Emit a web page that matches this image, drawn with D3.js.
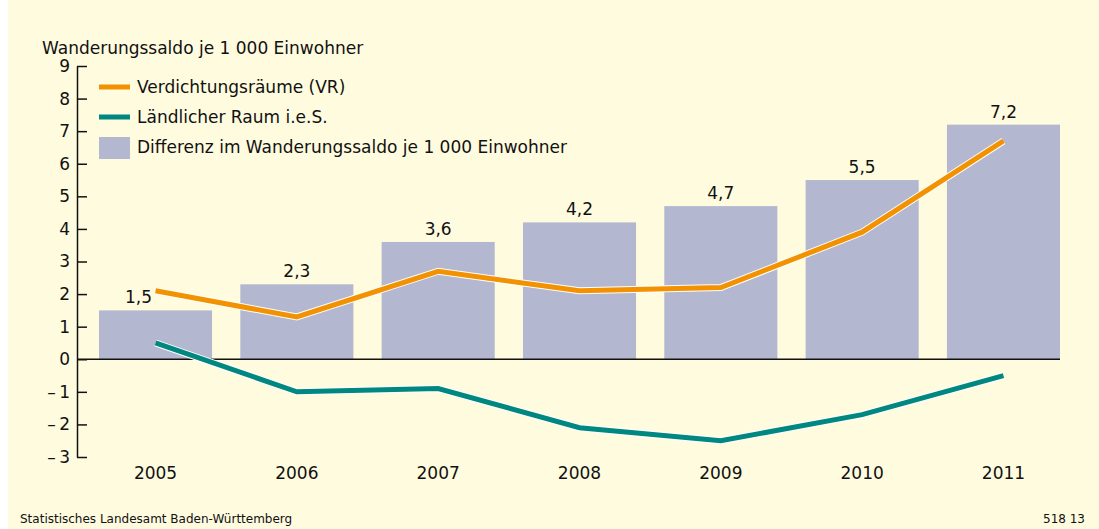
<!DOCTYPE html>
<html>
<head>
<meta charset="utf-8">
<script src="https://cdn.jsdelivr.net/npm/d3@7"></script>
<style>
    body { margin: 0; background: #fff; }
    svg { display: block; font-family: "DejaVu Sans", sans-serif; }
</style>
</head>
<body>
<div class="output"></div>
<script>
// Daten
const years = ["2005", "2006", "2007", "2008", "2009", "2010", "2011"];
const verdichtung = [2.1, 1.3, 2.7, 2.1, 2.2, 3.9, 6.7];
const laendlich = [0.5, -1.0, -0.9, -2.1, -2.5, -1.7, -0.5];
const differenz = [1.5, 2.3, 3.6, 4.2, 4.7, 5.5, 7.2];
const yTicks = [-3, -2, -1, 0, 1, 2, 3, 4, 5, 6, 7, 8, 9];

const width = 1099, height = 529;
const colors = { bg: "#fffbdf", bar: "#b3b7cf", orange: "#f39200", teal: "#00877f" };

const svg = d3.select(".output")
    .append("svg")
    .attr("width", width)
    .attr("height", height);

svg.append("rect")
    .attr("x", 8).attr("y", 0)
    .attr("width", width - 8).attr("height", height)
    .attr("fill", colors.bg);

// Achsen
let x = d3.scaleBand()
    .domain(years)
    .range([99, 1060])
    .paddingInner(0.2)
    .paddingOuter(0);

let y = d3.scaleLinear()
    .domain([-3, 9])
    .range([457, 66]);

// Balken
svg.selectAll("rect.bar")
    .data(differenz)
    .enter()
    .append("rect")
    .attr("class", "bar")
    .attr("x", (d, i) => x(years[i]))
    .attr("y", (d) => y(d))
    .attr("width", x.bandwidth())
    .attr("height", (d) => y(0) - y(d))
    .attr("fill", colors.bar);

// Wert 2005 etwas nach links, damit die Linie frei bleibt
svg.selectAll("text.val")
    .data(differenz)
    .enter()
    .append("text")
    .attr("x", (d, i) => x(years[i]) + x.bandwidth() / 2 - (i === 0 ? 17 : 0))
    .attr("y", (d) => y(d) - 7)
    .attr("text-anchor", "middle")
    .style("font-size", "17px")
    .attr("fill", "#111")
    .text((d) => d.toFixed(1).replace(".", ","));

// Nulllinie
svg.append("line")
    .attr("x1", 77).attr("x2", x(years[6]) + x.bandwidth())
    .attr("y1", y(0)).attr("y2", y(0))
    .attr("stroke", "#111").attr("stroke-width", 1.5);

// Y-Achse
let yAxis = svg.append("g")
    .attr("transform", "translate(77,0)")
    .call(d3.axisRight(y).tickValues(yTicks).tickSize(10).tickSizeOuter(0)
        .tickFormat((d) => d < 0 ? "\u2013\u2009" + Math.abs(d) : d));
yAxis.select(".domain").attr("stroke", "#111").attr("stroke-width", 1.5);
yAxis.selectAll(".tick line").attr("stroke", "#111").attr("stroke-width", 1.5);
yAxis.selectAll(".tick text")
    .attr("x", -7)
    .attr("text-anchor", "end")
    .attr("fill", "#111")
    .style("font-size", "17px")
    .style("font-family", "DejaVu Sans, sans-serif");

// Linien
let line = d3.line()
    .x((d, i) => x(years[i]) + x.bandwidth() / 2)
    .y((d) => y(d));

[[verdichtung, colors.orange], [laendlich, colors.teal]].forEach(([vals, c]) => {
    svg.append("path")
        .attr("d", line(vals))
        .attr("fill", "none")
        .attr("stroke", "#fff")
        .attr("stroke-width", 7);
    svg.append("path")
        .attr("d", line(vals))
        .attr("fill", "none")
        .attr("stroke", c)
        .attr("stroke-width", 5);
});

// Titel
svg.append("text")
    .attr("x", 42).attr("y", 54)
    .style("font-size", "17px")
    .attr("fill", "#111")
    .text("Wanderungssaldo je 1 000 Einwohner");

// Legende
const legend = [
    { label: "Verdichtungsräume (VR)", type: "line", color: colors.orange },
    { label: "Ländlicher Raum i.e.S.", type: "line", color: colors.teal },
    { label: "Differenz im Wanderungssaldo je 1 000 Einwohner", type: "rect", color: colors.bar }
];
legend.forEach((d, i) => {
    let cy = 87 + i * 30;
    if (d.type === "line") {
        svg.append("rect")
            .attr("x", 99).attr("y", cy - 2.5)
            .attr("width", 31).attr("height", 5)
            .attr("fill", d.color);
    } else {
        svg.append("rect")
            .attr("x", 99).attr("y", cy - 10)
            .attr("width", 31).attr("height", 22)
            .attr("fill", d.color);
    }
    svg.append("text")
        .attr("x", 137).attr("y", cy + 6)
        .style("font-size", "17px")
        .attr("fill", "#111")
        .text(d.label);
});

// Jahre
svg.selectAll("text.year")
    .data(years)
    .enter()
    .append("text")
    .attr("x", (d) => x(d) + x.bandwidth() / 2)
    .attr("y", 479)
    .attr("text-anchor", "middle")
    .style("font-size", "17px")
    .attr("fill", "#111")
    .text((d) => d);

// Quelle
svg.append("text")
    .attr("x", 20).attr("y", 523)
    .style("font-size", "12px")
    .attr("fill", "#111")
    .text("Statistisches Landesamt Baden-Württemberg");

svg.append("text")
    .attr("x", 1085).attr("y", 523)
    .attr("text-anchor", "end")
    .style("font-size", "12px")
    .attr("fill", "#111")
    .text("518 13");
</script>
</body>
</html>
